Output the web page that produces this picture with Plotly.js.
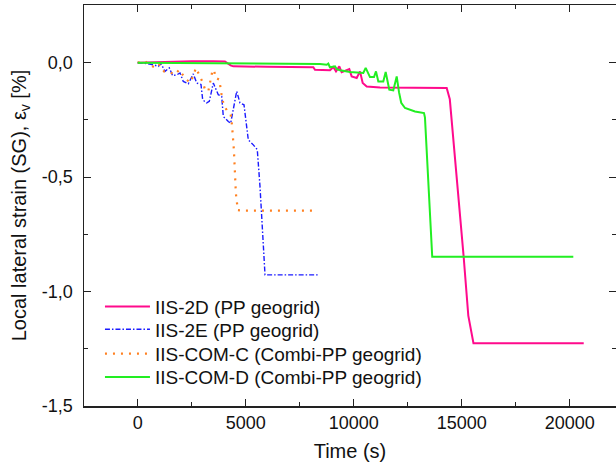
<!DOCTYPE html>
<html>
<head>
<meta charset="utf-8">
<script src="https://cdn.plot.ly/plotly-3.0.1.min.js"></script>
<style>html,body{margin:0;padding:0;background:#fff;}#chart{width:616px;height:466px;}</style>
</head>
<body>
<div id="chart"></div>
<script>
// Series names
const seriesNames = ['IIS-2D (PP geogrid)', 'IIS-2E (PP geogrid)', 'IIS-COM-C (Combi-PP geogrid)', 'IIS-COM-D (Combi-PP geogrid)'];

// IIS-2D (PP geogrid)
const time2D = [0, 1000, 1800, 2500, 3500, 4040, 4300, 4426, 6000, 8130, 8208, 8903, 9056, 9181, 9333, 9444, 9796, 9907, 10139, 10292, 10417, 10602, 11218, 12500, 14306, 14450, 14611, 14843, 15091, 15306, 15545, 20650];
const strain2D = [0, 0.002, 0.006, 0.006, 0.006, 0.005, -0.012, -0.016, -0.018, -0.02, -0.031, -0.033, -0.019, -0.038, -0.016, -0.042, -0.028, -0.06, -0.067, -0.038, -0.089, -0.104, -0.108, -0.109, -0.111, -0.16, -0.33, -0.55, -0.848, -1.105, -1.226, -1.226];

// IIS-2E (PP geogrid)
const time2E = [0, 300, 722, 954, 1079, 1264, 1463, 1620, 1833, 1958, 2111, 2343, 2574, 2731, 2930, 3009, 3194, 3315, 3500, 3731, 3889, 3963, 4194, 4306, 4583, 4736, 4921, 5120, 5352, 5537, 5662, 5787, 5894, 8361];
const strain2E = [0, -0.002, -0.009, -0.016, -0.004, -0.038, -0.023, -0.057, -0.052, -0.045, -0.082, -0.092, -0.049, -0.089, -0.095, -0.162, -0.176, -0.169, -0.089, -0.14, -0.147, -0.235, -0.257, -0.264, -0.125, -0.176, -0.184, -0.337, -0.359, -0.38, -0.541, -0.76, -0.927, -0.927];

// IIS-COM-C (Combi-PP geogrid)
const timeComC = [0, 338, 537, 847, 1000, 1218, 1495, 1727, 1926, 2236, 2454, 2699, 2806, 3037, 3116, 3269, 3454, 3546, 3579, 3778, 3889, 3963, 4120, 4306, 4366, 4454, 4545, 4636, 4815, 8208];
const strainComC = [0, 0.006, -0.009, -0.023, -0.009, -0.038, -0.042, -0.052, -0.031, -0.074, -0.086, -0.023, -0.045, -0.092, -0.118, -0.125, -0.038, -0.031, -0.064, -0.074, -0.144, -0.176, -0.208, -0.227, -0.273, -0.382, -0.571, -0.644, -0.646, -0.646];

// IIS-COM-D (Combi-PP geogrid)
const timeComD = [0, 3000, 7514, 8440, 8750, 8824, 8900, 9134, 9213, 9366, 9829, 10292, 10445, 10555, 10755, 10940, 11032, 11140, 11370, 11481, 11648, 11833, 11991, 12100, 12200, 12375, 12838, 13255, 13300, 13636, 20167];
const strainComD = [0, -0.002, -0.004, -0.006, -0.009, -0.004, -0.02, -0.016, -0.028, -0.033, -0.041, -0.045, -0.045, -0.023, -0.063, -0.063, -0.038, -0.082, -0.082, -0.041, -0.118, -0.121, -0.06, -0.13, -0.175, -0.198, -0.213, -0.22, -0.24, -0.848, -0.848];

// Tick labels
const xTickVals = [0, 5000, 10000, 15000, 20000];
const xTickLabels = ['0', '5000', '10000', '15000', '20000'];
const yTickVals = [-1.5, -1.0, -0.5, 0.0];
const yTickLabels = ['-1,5', '-1,0', '-0,5', '0,0'];

const FONT = '"Liberation Sans", Arial, sans-serif';

const traces = [
  {x: time2D, y: strain2D, name: seriesNames[0], legend: 'legend', mode: 'lines', line: {color: '#ff0a8c', width: 2}},
  {x: time2E, y: strain2E, name: seriesNames[1], legend: 'legend2', mode: 'lines', line: {color: '#1a1aff', width: 1.4, dash: '5px,2px,1.5px,2px'}},
  {x: timeComC, y: strainComC, name: seriesNames[2], legend: 'legend3', mode: 'lines', line: {color: '#ff8020', width: 2.2, dash: '2px,6px'}},
  {x: timeComD, y: strainComD, name: seriesNames[3], legend: 'legend4', mode: 'lines', line: {color: '#22ee22', width: 2}}
];

const axisCommon = {
  showgrid: false, zeroline: false, showline: true, linecolor: '#222', linewidth: 1.5,
  mirror: 'ticks', ticks: 'inside', ticklen: 7, tickwidth: 1, tickcolor: '#222',
  tickfont: {family: FONT, size: 18, color: '#111'}
};

function legendAt(yPaper) {
  return {x: 0.03, y: yPaper, xanchor: 'left', yanchor: 'middle', bgcolor: 'rgba(0,0,0,0)',
          font: {family: FONT, size: 19, color: '#111'}, itemwidth: 45, borderwidth: 0};
}

const layout = {
  width: 616, height: 466,
  margin: {l: 84, r: 0, t: 5, b: 60},
  paper_bgcolor: '#fff', plot_bgcolor: '#fff',
  showlegend: true,
  legend: legendAt(0.248),
  legend2: legendAt(0.191),
  legend3: legendAt(0.130),
  legend4: legendAt(0.072),
  xaxis: Object.assign({}, axisCommon, {
    range: [-2486, 22144], tickmode: 'array', tickvals: xTickVals, ticktext: xTickLabels,
    minor: {dtick: 2500, tick0: 0, ticks: 'inside', ticklen: 4, tickcolor: '#222'},
    title: {text: 'Time (s)', font: {family: FONT, size: 20, color: '#111'}, standoff: 12}
  }),
  yaxis: Object.assign({}, axisCommon, {
    range: [-1.5, 0.252], tickmode: 'array', tickvals: yTickVals, ticktext: yTickLabels,
    ticklabelstandoff: 6,
    minor: {dtick: 0.25, tick0: 0, ticks: 'inside', ticklen: 4, tickcolor: '#222'},
    title: {text: 'Local lateral strain (SG), ε<sub>v</sub> [%]', font: {family: FONT, size: 20, color: '#111'}, standoff: 10}
  })
};

Plotly.newPlot('chart', traces, layout, {displayModeBar: false, staticPlot: true});
</script>
</body>
</html>
